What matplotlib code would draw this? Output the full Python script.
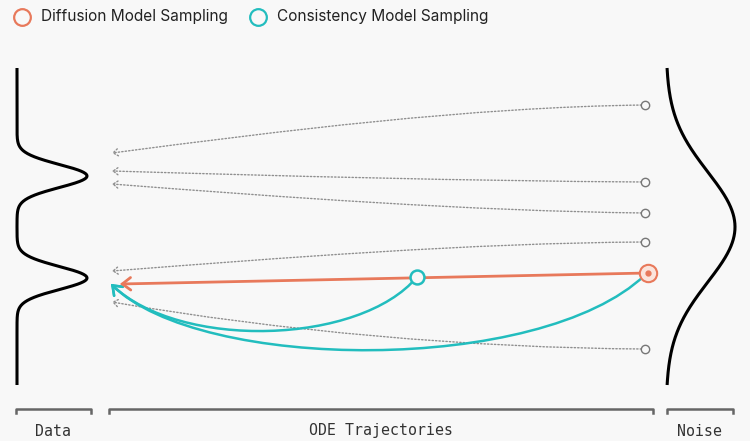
import numpy as np
import matplotlib.pyplot as plt
from matplotlib.path import Path
from matplotlib.patches import FancyArrowPatch, ArrowStyle

# Coordenadas em "pixels" da figura (x: 0-750, y: 0-441, y para baixo)
x_data, x_noise = 112, 645

# Trajetorias pontilhadas (ODE): y no ruido -> y nos dados, com pontos de controle
traj_y_noise = [105, 182, 213, 242, 349]
traj_y_data = [153, 171, 184, 271, 302]
traj_ctrl1 = [107, 181, 211, 243, 348]
traj_ctrl2 = [131, 176, 197, 258, 331]

# Amostragem por difusao (laranja)
diff_start = (648, 273)
diff_end = (120, 284)

# Amostragem por consistencia (ciano): pontos de controle das curvas de Bezier
cons_paths = [
    [(417, 277), (360, 345), (180, 350), (111, 284)],
    [(645, 275), (540, 375), (200, 372), (111, 284)],
]

# Densidades
data_modes = [176, 278]
data_sigma = 11.5
data_amp = 70
data_x0 = 17
noise_mu, noise_sigma, noise_amp, noise_x0 = 227, 55, 69, 666
y_top, y_bot = 68, 385

# Colchetes e rotulos inferiores
brackets = [(16, 91), (109, 653), (667, 733)]
labels = ["Data", "ODE Trajectories", "Noise"]

c_orange = "#E8795B"
c_cyan = "#22BDBE"
c_gray = "#8f8f8f"
bg = "#F8F8F8"

fig = plt.figure(figsize=(7.5, 4.41), dpi=100, facecolor=bg)
ax = fig.add_axes([0, 0, 1, 1])
ax.set_facecolor(bg)
ax.set_xlim(0, 750)
ax.set_ylim(441, 0)
ax.axis("off")

# Curva da distribuicao dos dados (esquerda)
yy = np.linspace(y_top, y_bot, 800)
dens = sum(np.exp(-0.5 * ((yy - m) / data_sigma) ** 2) for m in data_modes)
ax.plot(data_x0 + data_amp * dens, yy, color="black", lw=2.2, solid_capstyle="butt")

# Curva do ruido (direita)
dens_n = np.exp(-0.5 * ((yy - noise_mu) / noise_sigma) ** 2)
ax.plot(noise_x0 + noise_amp * dens_n, yy, color="black", lw=2.2, solid_capstyle="butt")

# Trajetorias pontilhadas
for y0, y1, c1, c2 in zip(traj_y_noise, traj_y_data, traj_ctrl1, traj_ctrl2):
    verts = [(x_noise, y0), (470, c1), (280, c2), (x_data, y1)]
    p = Path(verts, [Path.MOVETO, Path.CURVE4, Path.CURVE4, Path.CURVE4])
    arr = FancyArrowPatch(path=p, arrowstyle=ArrowStyle("->", head_length=3.5, head_width=2.6),
                          mutation_scale=1, color=c_gray, lw=1.0, linestyle=(0, (1, 1.5)))
    ax.add_patch(arr)
    ax.plot(x_noise, y0, "o", ms=6, mfc=bg, mec="#777777", mew=1.0, zorder=5)

# Consistencia (ciano)
for pts in cons_paths:
    p = Path(pts, [Path.MOVETO, Path.CURVE4, Path.CURVE4, Path.CURVE4])
    arr = FancyArrowPatch(path=p, arrowstyle=ArrowStyle("->", head_length=6, head_width=4.5),
                          mutation_scale=1, color=c_cyan, lw=1.8, joinstyle="miter")
    ax.add_patch(arr)

# Difusao (laranja)
p = Path([diff_start, diff_end], [Path.MOVETO, Path.LINETO])
arr = FancyArrowPatch(path=p, arrowstyle=ArrowStyle("->", head_length=6, head_width=4.5),
                      mutation_scale=1, color=c_orange, lw=2.0, joinstyle="miter")
ax.add_patch(arr)

ax.plot(*cons_paths[0][0], "o", ms=10, mfc=bg, mec=c_cyan, mew=1.8, zorder=6)
ax.plot(*diff_start, "o", ms=12.5, mfc="#FBE4DC", mec=c_orange, mew=1.5, zorder=6)
ax.plot(*diff_start, "o", ms=3.5, color=c_orange, zorder=7)

# Legenda
ax.plot(22, 17, "o", ms=12, mfc=bg, mec=c_orange, mew=1.6)
ax.text(41, 17, "Diffusion Model Sampling", family="Inter", fontsize=11.1,
        color="#222222", va="center", ha="left")
ax.plot(258, 17, "o", ms=12, mfc=bg, mec=c_cyan, mew=1.6)
ax.text(277, 17, "Consistency Model Sampling", family="Inter", fontsize=11.1,
        color="#222222", va="center", ha="left")

# Colchetes inferiores
for (xa, xb), lab in zip(brackets, labels):
    ax.plot([xa, xa, xb, xb], [413, 409, 409, 413], color="#666666", lw=1.8)
    ax.text((xa + xb) / 2, 431, lab, family="DejaVu Sans Mono", fontsize=10.7,
            color="#333333", ha="center", va="center")

fig.savefig("out.png", dpi=100, facecolor=bg)
